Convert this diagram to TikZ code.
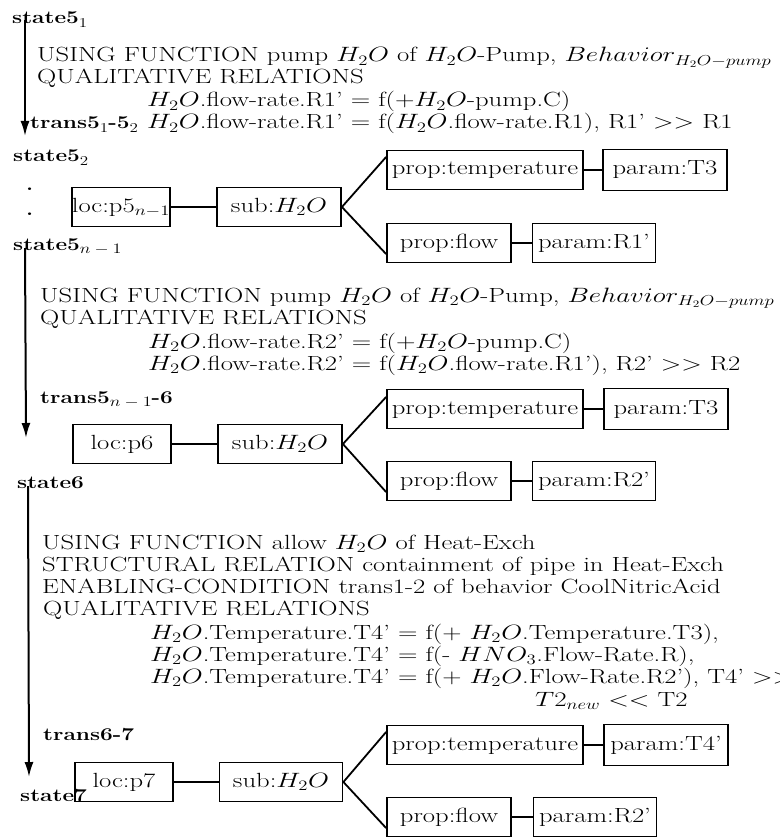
\documentclass[tikz,border=0pt]{standalone}
\usepackage{graphicx}
\usetikzlibrary{arrows.meta}
\newcommand\W[1]{\scalebox{1.3}[1]{#1}}
\newcommand\B[1]{\scalebox{1.26}[1]{\fontsize{18}{21}\selectfont\bfseries #1}}
\newcommand\Sb[1]{\raisebox{-3.5pt}{\fontsize{13.5}{15}\selectfont\mdseries #1}}
\begin{document}
\begin{tikzpicture}[x=1pt,y=-1pt,
  every node/.style={font=\fontsize{20.5}{24}\selectfont, inner sep=0pt},
  txt/.style={anchor=base west},
  bx/.style={draw, line width=1.8pt, minimum height=39pt, minimum width=#1, anchor=center, text height=14pt, text depth=4pt},
  conn/.style={line width=1.8pt},
  flow/.style={line width=2pt, -{Latex[length=15pt,width=9pt]}}]
\useasboundingbox (0,0) rectangle (779,837);
\clip (0,0) rectangle (779,837);
% ---------- block 1
\node[txt] (s51) at (12,24) {\B{state5\Sb{1}}};
\node[txt] (u1) at (37,62) {\W{USING FUNCTION pump $H_2O$ of $H_2O$-Pump, $Behavior_{H_2O-pump}$}};
\node[txt] (q1) at (37,84) {\W{QUALITATIVE RELATIONS}};
\node[txt] (e1a) at (147,107) {\W{$H_2O$.flow-rate.R1' $=$ f($+H_2O$-pump.C)}};
\node[txt] (t1) at (30,129) {\B{trans5\Sb{1}-5\Sb{2}}};
\node[txt] (e1b) at (147,129) {\W{$H_2O$.flow-rate.R1' $=$ f($H_2O$.flow-rate.R1), R1' $>>$ R1}};
\coordinate (a1s) at (25,20);
\coordinate (a1e) at (25,136);
\draw[flow] (a1s) -- (a1e);
% ---------- block 2
\node[txt] (s52) at (13,162) {\B{state5\Sb{2}}};
\node[txt] (d1) at (26,190) {\B{.}};
\node[txt] (d2) at (26,215) {\B{.}};
\node[txt] (s5n) at (13,250) {\B{state5\Sb{$n-1$}}};
\node[bx=98pt] (loc1) at (121,207) {\makebox[0pt]{\W{loc:p5$_{n-1}$}}};
\node[bx=124pt] (sub1) at (279,207) {\makebox[0pt]{\W{sub:$H_2O$}}};
\node[bx=196pt] (pt1) at (485,170) {\makebox[0pt]{\W{prop:temperature}}};
\node[bx=124pt, minimum height=41pt] (pT1) at (665,170) {\makebox[0pt]{\W{param:T3}}};
\node[bx=124pt] (pf1) at (449,243) {\makebox[0pt]{\W{prop:flow}}};
\node[bx=123pt] (pR1) at (594,243) {\makebox[0pt]{\W{param:R1'}}};
\draw[conn] (loc1.east) -- (sub1.west);
\draw[conn] (sub1.east) -- ([yshift=13pt]pt1.west);
\draw[conn] (sub1.east) -- ([yshift=-11pt]pf1.west);
\draw[conn] (pt1.east) -- (pT1.west);
\draw[conn] (pf1.east) -- (pR1.west);
% ---------- block 3
\node[txt] (u2) at (40,302) {\W{USING FUNCTION pump $H_2O$ of $H_2O$-Pump, $Behavior_{H_2O-pump}$}};
\node[txt] (q2) at (40,324) {\W{QUALITATIVE RELATIONS}};
\node[txt] (e2a) at (148,348) {\W{$H_2O$.flow-rate.R2' $=$ f($+H_2O$-pump.C)}};
\node[txt] (e2b) at (148,370) {\W{$H_2O$.flow-rate.R2' $=$ f($H_2O$.flow-rate.R1'), R2' $>>$ R2}};
\node[txt] (t2) at (40,403) {\B{trans5\Sb{$n-1$}-6}};
\coordinate (a2s) at (25,248);
\coordinate (a2e) at (26,438);
\draw[flow] (a2s) -- (a2e);
\node[bx=98pt] (loc2) at (122,444) {\makebox[0pt]{\W{loc:p6}}};
\node[bx=124pt] (sub2) at (280,444) {\makebox[0pt]{\W{sub:$H_2O$}}};
\node[bx=196pt] (pt2) at (485,409) {\makebox[0pt]{\W{prop:temperature}}};
\node[bx=124pt, minimum height=41pt] (pT2) at (666,409) {\makebox[0pt]{\W{param:T3}}};
\node[bx=124pt] (pf2) at (449,481) {\makebox[0pt]{\W{prop:flow}}};
\node[bx=123pt] (pR2) at (594,481) {\makebox[0pt]{\W{param:R2'}}};
\draw[conn] (loc2.east) -- (sub2.west);
\draw[conn] (sub2.east) -- ([yshift=12pt]pt2.west);
\draw[conn] (sub2.east) -- ([yshift=-11pt]pf2.west);
\draw[conn] (pt2.east) -- (pT2.west);
\draw[conn] (pf2.east) -- (pR2.west);
% ---------- block 4
\node[txt] (s6) at (17,488) {\B{state6}};
\node[txt] (u3) at (42,549) {\W{USING FUNCTION allow $H_2O$ of Heat-Exch}};
\node[txt] (r3) at (42,571) {\W{STRUCTURAL RELATION containment of pipe in Heat-Exch}};
\node[txt] (n3) at (42,593) {\W{ENABLING-CONDITION trans1-2 of behavior CoolNitricAcid}};
\node[txt] (q3) at (43,615) {\W{QUALITATIVE RELATIONS}};
\node[txt] (e3a) at (150,639) {\W{$H_2O$.Temperature.T4' $=$ f(+ $H_2O$.Temperature.T3),}};
\node[txt] (e3b) at (150,661) {\W{$H_2O$.Temperature.T4' $=$ f(- $HNO_3$.Flow-Rate.R),}};
\node[txt] (e3c) at (150,683) {\W{$H_2O$.Temperature.T4' $=$ f(+ $H_2O$.Flow-Rate.R2'), T4' $>>$}};
\node[txt] (e3d) at (535,706) {\W{$T2_{new}$ $<<$ T2}};
\node[txt] (t3) at (43,740) {\B{trans6-7}};
\node[txt] (s7) at (20,801) {\B{state7}};
\coordinate (a3s) at (28,486);
\coordinate (a3e) at (29,777);
\draw[flow] (a3s) -- (a3e);
\node[bx=98pt] (loc3) at (124,782) {\makebox[0pt]{\W{loc:p7}}};
\node[bx=123pt] (sub3) at (281,782) {\makebox[0pt]{\W{sub:$H_2O$}}};
\node[bx=196pt] (pt3) at (485,745) {\makebox[0pt]{\W{prop:temperature}}};
\node[bx=124pt, minimum height=41pt] (pT3) at (666,745) {\makebox[0pt]{\W{param:T4'}}};
\node[bx=124pt] (pf3) at (449,817) {\makebox[0pt]{\W{prop:flow}}};
\node[bx=123pt] (pR3) at (595,817) {\makebox[0pt]{\W{param:R2'}}};
\draw[conn] (loc3.east) -- (sub3.west);
\draw[conn] (sub3.east) -- ([yshift=13pt]pt3.west);
\draw[conn] (sub3.east) -- ([yshift=-11pt]pf3.west);
\draw[conn] (pt3.east) -- (pT3.west);
\draw[conn] (pf3.east) -- (pR3.west);
\end{tikzpicture}
\end{document}
